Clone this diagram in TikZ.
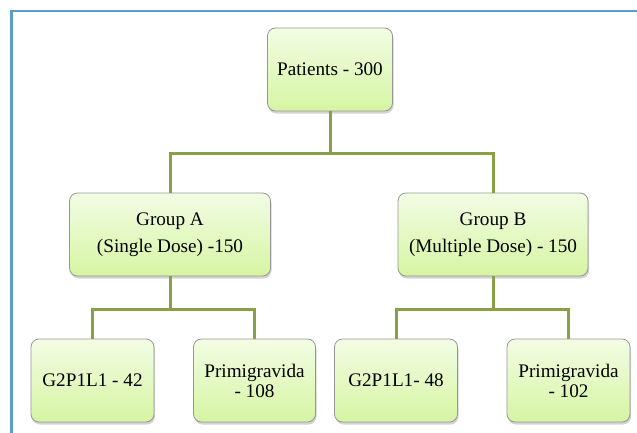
\documentclass[tikz,border=0pt]{standalone}
\usepackage{fontspec}
\setmainfont{Liberation Serif}
\usetikzlibrary{shadows}
\definecolor{framecol}{RGB}{91,155,213}
\definecolor{conncol}{RGB}{137,160,70}
\definecolor{boxtop}{RGB}{242,252,228}
\definecolor{boxbot}{RGB}{214,245,163}
\definecolor{boxedge}{RGB}{150,150,150}
\tikzset{
  box/.style={draw=boxedge, line width=0.8pt, rounded corners=8pt,
    top color=boxtop, bottom color=boxbot, inner sep=0pt,
    minimum height=83pt, align=center,
    drop shadow={shadow xshift=1pt, shadow yshift=-2.5pt, opacity=0.35}},
  onefont/.style={font=\fontsize{19.2}{23}\selectfont},
  grpfont/.style={font=\fontsize{19.2}{27}\selectfont},
  leaffont/.style={font=\fontsize{19.2}{20}\selectfont},
  conn/.style={draw=conncol, line width=3pt},
  frameline/.style={draw=framecol, line width=2.6pt}
}
\begin{document}
\begin{tikzpicture}[x=1pt,y=-1pt]
\useasboundingbox (0,0) rectangle (637,432);
\draw[frameline] (660,11) -- (11.5,11) -- (11.5,460);

\node[box, onefont, minimum width=125pt] (P) at (330,69.5) {Patients - 300};
\node[box, grpfont, minimum width=201pt] (A) at (170,234.5) {Group A\\(Single Dose) -150};
\node[box, grpfont, minimum width=190pt] (B) at (493,234.5) {Group B\\(Multiple Dose) - 150};
\node[box, onefont, minimum width=123pt] (L1) at (92.5,380.5) {G2P1L1 - 42};
\node[box, leaffont, minimum width=122pt] (L2) at (254.5,380.5) {Primigravida\\- 108};
\node[box, onefont, minimum width=123pt] (L3) at (396,380.5) {G2P1L1- 48};
\node[box, leaffont, minimum width=123pt] (L4) at (568.5,380.5) {Primigravida\\- 102};

\draw[conn] (P.south) -- (P.south |- 0,153);
\draw[conn] (A.north) |- (B.north |- 0,153) -- (B.north);
\draw[conn] (A.south) -- (A.south |- 0,309);
\draw[conn] (L1.north) |- (L2.north |- 0,309) -- (L2.north);
\draw[conn] (B.south) -- (B.south |- 0,309);
\draw[conn] (L3.north) |- (L4.north |- 0,309) -- (L4.north);
\end{tikzpicture}
\end{document}
